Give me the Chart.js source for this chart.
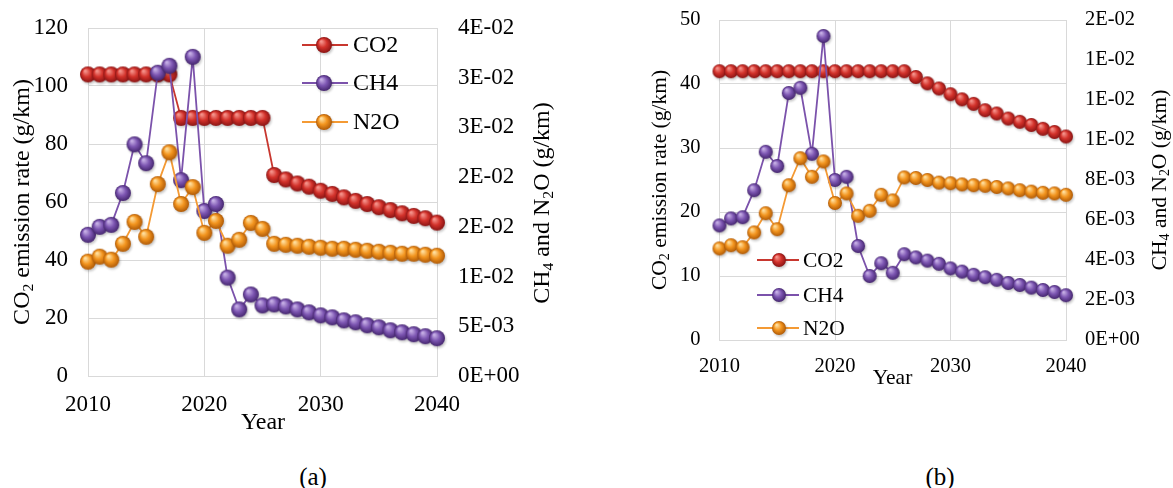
<!DOCTYPE html>
<html>
<head>
<meta charset="utf-8">
<title>Emission rates</title>
<script src="https://cdn.jsdelivr.net/npm/chart.js@4.4.0/dist/chart.umd.min.js"></script>
<style>
  body { margin: 0; background: #fff; width: 1173px; height: 488px; position: relative; overflow: hidden;
         font-family: "Liberation Serif", "Times New Roman", serif; color: #000; }
  canvas { position: absolute; top: 0; }
  #chartA { left: 0; }
  #chartB { left: 600px; }
  .cap { position: absolute; top: 462px; font-size: 25px; line-height: 30px; transform: translateX(-50%); }
</style>
</head>
<body>
<canvas id="chartA" width="590" height="440"></canvas>
<canvas id="chartB" width="573" height="440"></canvas>
<div class="cap" style="left:313px">(a)</div>
<div class="cap" style="left:940px">(b)</div>
<script>
// years on the x axis
const years = [2010, 2011, 2012, 2013, 2014, 2015, 2016, 2017, 2018, 2019, 2020,
               2021, 2022, 2023, 2024, 2025, 2026, 2027, 2028, 2029, 2030,
               2031, 2032, 2033, 2034, 2035, 2036, 2037, 2038, 2039, 2040];

// (a) CO2 in g/km (left axis), CH4 and N2O in g/km (right axis)
const co2A = [104, 104, 104, 104, 104, 104, 104, 104, 89, 89, 89, 89, 89, 89, 89, 89,
              69.3, 67.8, 66.4, 65.3, 63.9, 62.8, 61.6, 60.4, 59.3, 58.2, 57.2, 56.1, 55.2, 54.4, 52.9];
const ch4A = [0.0142, 0.0150, 0.0152, 0.0184, 0.0233, 0.0214, 0.0305, 0.0312, 0.0197, 0.0321, 0.0166,
              0.0173, 0.0099, 0.0067, 0.0082, 0.0071, 0.0072, 0.0070, 0.0067, 0.0064, 0.0061,
              0.0059, 0.0056, 0.0054, 0.0051, 0.0049, 0.0046, 0.0044, 0.0042, 0.0040, 0.0038];
const n2oA = [0.0115, 0.0120, 0.0117, 0.0133, 0.0155, 0.0140, 0.0193, 0.0225, 0.0173, 0.0190, 0.0144,
              0.0156, 0.0131, 0.0137, 0.0154, 0.0148, 0.0133, 0.0132, 0.0131, 0.0130, 0.0129,
              0.0128, 0.0128, 0.0127, 0.0126, 0.0125, 0.0124, 0.0123, 0.0123, 0.0122, 0.0121];

// (b)
const co2B = [42, 42, 42, 42, 42, 42, 42, 42, 42, 42, 42, 42, 42, 42, 42, 42, 42,
              41.1, 40.1, 39.3, 38.4, 37.6, 36.9, 35.9, 35.4, 34.6, 34.1, 33.6, 33.0, 32.5, 31.8];
const ch4B = [0.00573, 0.00608, 0.00614, 0.00749, 0.00941, 0.00870, 0.01235, 0.01261, 0.00931, 0.01520, 0.00800,
              0.00816, 0.00470, 0.00320, 0.00384, 0.00336, 0.00429, 0.00413, 0.00397, 0.00381, 0.00358,
              0.00342, 0.00326, 0.00314, 0.00301, 0.00285, 0.00275, 0.00262, 0.00250, 0.00240, 0.00224];
const n2oB = [0.00458, 0.00474, 0.00464, 0.00538, 0.00634, 0.00554, 0.00774, 0.00909, 0.00816, 0.00893, 0.00685,
              0.00733, 0.00621, 0.00646, 0.00726, 0.00698, 0.00813, 0.00810, 0.00800, 0.00787, 0.00784,
              0.00778, 0.00774, 0.00771, 0.00765, 0.00758, 0.00749, 0.00742, 0.00736, 0.00733, 0.00726];

// right axis tick labels, bottom to top
const rightTicksA = ['0E+00', '5E-03', '1E-02', '2E-02', '2E-02', '3E-02', '3E-02', '4E-02'];
const rightTicksB = ['0E+00', '2E-03', '4E-03', '6E-03', '8E-03', '1E-02', '1E-02', '1E-02', '2E-02'];

const seriesNames = ['CO2', 'CH4', 'N2O'];

const SERIF = '"Liberation Serif", "Times New Roman", serif';
const GRID = '#d9d9d9';

// shaded ball used as the point marker
function makeBall(r, light, mid, dark) {
    const pad = 4;
    const c = document.createElement('canvas');
    c.width = c.height = Math.ceil(2 * r + 2 * pad);
    const g = c.getContext('2d');
    const cx = c.width / 2, cy = c.height / 2;
    g.save();
    g.filter = 'blur(1.2px)';
    g.fillStyle = 'rgba(0,0,0,0.22)';
    g.beginPath();
    g.arc(cx + 1.2, cy + 1.8, r, 0, Math.PI * 2);
    g.fill();
    g.restore();
    const grad = g.createRadialGradient(cx - r * 0.35, cy - r * 0.45, r * 0.08, cx, cy, r);
    grad.addColorStop(0, light);
    grad.addColorStop(0.5, mid);
    grad.addColorStop(1, dark);
    g.fillStyle = grad;
    g.beginPath();
    g.arc(cx, cy, r, 0, Math.PI * 2);
    g.fill();
    return c;
}

const palette = [
    { line: '#c8372f', light: '#f5948c', mid: '#d3322b', dark: '#8a1414' },
    { line: '#7b52ab', light: '#c7b0e6', mid: '#7d56b2', dark: '#45266f' },
    { line: '#f49a34', light: '#ffe0a0', mid: '#f3951f', dark: '#b05a06' }
];

// draws text pieces, with subscripts, centred on (x, y)
function drawRich(ctx, parts, x, y, size, vertical) {
    ctx.save();
    ctx.translate(x, y);
    if (vertical) ctx.rotate(-Math.PI / 2);
    ctx.fillStyle = '#000';
    ctx.textBaseline = 'middle';
    ctx.textAlign = 'left';
    let total = 0;
    parts.forEach(p => {
        ctx.font = (p.sub ? size * 0.65 : size) + 'px ' + SERIF;
        p.w = ctx.measureText(p.t).width;
        total += p.w;
    });
    let cx = -total / 2;
    parts.forEach(p => {
        ctx.font = (p.sub ? size * 0.65 : size) + 'px ' + SERIF;
        ctx.fillText(p.t, cx, p.sub ? size * 0.25 : 0);
        cx += p.w;
    });
    ctx.restore();
}

const panelText = {
    id: 'panelText',
    afterDraw(chart, args, o) {
        const ctx = chart.ctx;
        drawRich(ctx, [{ t: 'CO' }, { t: '2', sub: true }, { t: ' emission rate (g/km)' }],
                 o.leftTitle[0], o.leftTitle[1], o.titleSize, true);
        drawRich(ctx, [{ t: 'CH' }, { t: '4', sub: true }, { t: ' and N' }, { t: '2', sub: true }, { t: 'O (g/km)' }],
                 o.rightTitle[0], o.rightTitle[1], o.titleSize, true);
        drawRich(ctx, [{ t: 'Year' }], o.yearPos[0], o.yearPos[1], o.titleSize, false);

        // legend: line, ball, name
        const lg = o.legend;
        chart.data.datasets.forEach((ds, i) => {
            const y = lg.ys[i];
            ctx.save();
            ctx.strokeStyle = ds.borderColor;
            ctx.lineWidth = ds.borderWidth;
            ctx.beginPath();
            ctx.moveTo(lg.x0, y);
            ctx.lineTo(lg.x1, y);
            ctx.stroke();
            const img = ds.pointStyle;
            ctx.drawImage(img, lg.ball - img.width / 2, y - img.height / 2);
            ctx.fillStyle = '#000';
            ctx.font = lg.size + 'px ' + SERIF;
            ctx.textBaseline = 'middle';
            ctx.fillText(seriesNames[i], lg.text, y + 1);
            ctx.restore();
        });
    }
};

// fixed axis width, and no extra room for the end labels
function fixWidth(w) {
    return s => {
        s.width = w;
        s.paddingTop = 0;
        s.paddingBottom = 0;
    };
}

function buildChart(id, cfg) {
    const balls = palette.map(p => makeBall(cfg.ballR, p.light, p.mid, p.dark));
    const series = [cfg.co2, cfg.ch4, cfg.n2o];
    const tickFont = { family: SERIF, size: cfg.tickSize };
    return new Chart(document.getElementById(id), {
        type: 'line',
        data: {
            datasets: series.map((vals, i) => ({
                label: seriesNames[i],
                data: years.map((yr, k) => ({ x: yr, y: vals[k] })),
                yAxisID: i === 0 ? 'y' : 'y2',
                borderColor: palette[i].line,
                borderWidth: 1.8,
                pointStyle: balls[i],
                pointRadius: cfg.ballR,
                tension: 0,
                clip: false,
                order: 3 - i
            }))
        },
        options: {
            responsive: false,
            animation: false,
            layout: { padding: cfg.padding },
            plugins: {
                legend: { display: false },
                tooltip: { enabled: false },
                panelText: cfg.text
            },
            scales: {
                x: {
                    type: 'linear', min: 2010, max: 2040,
                    ticks: { stepSize: 10, callback: v => String(v), padding: cfg.xPad, font: tickFont, color: '#000', maxRotation: 0 },
                    grid: { color: GRID, drawTicks: false },
                    border: { color: GRID },
                    afterFit(s) { s.height = 40; }
                },
                y: {
                    position: 'left', min: 0, max: cfg.leftMax,
                    ticks: { stepSize: cfg.leftStep, padding: cfg.leftPad, font: tickFont, color: '#000' },
                    grid: { color: GRID, drawTicks: false },
                    border: { color: GRID },
                    afterFit: fixWidth(cfg.leftW)
                },
                y2: {
                    position: 'right', min: 0, max: cfg.rightMax,
                    ticks: {
                        stepSize: cfg.rightStep, padding: cfg.rightPad, font: tickFont, color: '#000',
                        callback: v => cfg.rightTicks[Math.round(v / cfg.rightStep)]
                    },
                    grid: { display: false, drawTicks: false },
                    border: { display: false },
                    afterFit: fixWidth(cfg.rightW)
                }
            }
        },
        plugins: [panelText]
    });
}

buildChart('chartA', {
    co2: co2A, ch4: ch4A, n2o: n2oA,
    ballR: 8, tickSize: 23,
    padding: { top: 28, left: 0, right: 0, bottom: 24 },
    leftW: 88, rightW: 153, xPad: 15, leftPad: 20, rightPad: 21,
    leftMax: 120, leftStep: 20, rightMax: 0.035, rightStep: 0.005, rightTicks: rightTicksA,
    text: {
        titleSize: 24, leftTitle: [23, 202], rightTitle: [543, 203], yearPos: [263, 423],
        legend: { x0: 302, x1: 348, ball: 324, text: 353, ys: [45, 83, 122], size: 24 }
    }
});

buildChart('chartB', {
    co2: co2B, ch4: ch4B, n2o: n2oB,
    ballR: 7, tickSize: 20.5,
    padding: { top: 20, left: 0, right: 0, bottom: 60 },
    leftW: 119.5, rightW: 107, xPad: 14, leftPad: 19, rightPad: 19,
    leftMax: 50, leftStep: 10, rightMax: 0.016, rightStep: 0.002, rightTicks: rightTicksB,
    text: {
        titleSize: 21.5, leftTitle: [60, 180], rightTitle: [560, 180], yearPos: [292.5, 378],
        legend: { x0: 157, x1: 199, ball: 179, text: 203, ys: [260, 295, 328], size: 21.5 }
    }
});
</script>
</body>
</html>
